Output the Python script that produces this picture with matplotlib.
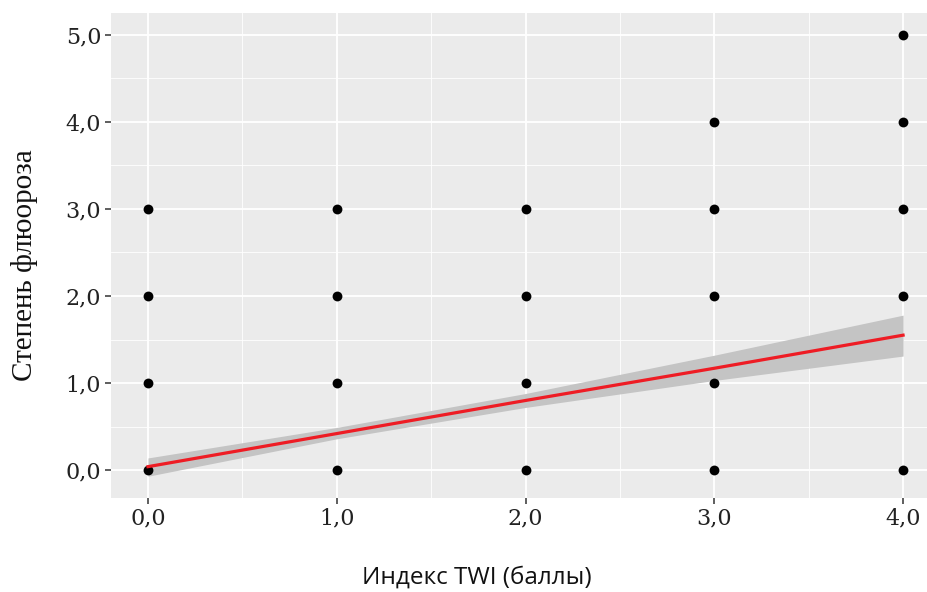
import numpy as np
import matplotlib
matplotlib.use("Agg")
import matplotlib.pyplot as plt
from matplotlib.ticker import MultipleLocator

# observed points (TWI index, fluorosis degree)
twi = [0, 0, 0, 0,
       1, 1, 1, 1,
       2, 2, 2, 2,
       3, 3, 3, 3, 3,
       4, 4, 4, 4, 4]
degree = [0, 1, 2, 3,
          0, 1, 2, 3,
          0, 1, 2, 3,
          0, 1, 2, 3, 4,
          0, 2, 3, 4, 5]

# fitted line and confidence band
fit_x = [0, 1, 2, 3, 4]
fit_y = [0.04, 0.42, 0.80, 1.17, 1.55]
band_lo = [-0.07, 0.36, 0.72, 1.03, 1.31]
band_hi = [0.14, 0.49, 0.88, 1.32, 1.78]

x_ticks = [0, 1, 2, 3, 4]
y_ticks = [0, 1, 2, 3, 4, 5]
x_labels = ["0,0", "1,0", "2,0", "3,0", "4,0"]
y_labels = ["0,0", "1,0", "2,0", "3,0", "4,0", "5,0"]

fig = plt.figure(figsize=(9.28, 5.92), dpi=100)
ax = fig.add_axes([111 / 928, 94 / 592, 817 / 928, 485 / 592])
ax.set_facecolor("#EBEBEB")
for s in ax.spines.values():
    s.set_visible(False)

ax.set_xlim(-0.196, 4.132)
ax.set_ylim(-0.32, 5.25)
ax.set_xticks(x_ticks)
ax.set_yticks(y_ticks)
ax.set_xticklabels(x_labels)
ax.set_yticklabels(y_labels)
ax.xaxis.set_minor_locator(MultipleLocator(0.5))
ax.yaxis.set_minor_locator(MultipleLocator(0.5))
ax.grid(which="major", color="white", linewidth=1.3)
ax.grid(which="minor", color="white", linewidth=0.6)
ax.set_axisbelow(True)
ax.tick_params(which="major", length=4, width=1.1, color="#333333",
               labelsize=16, labelcolor="#222222", pad=3)
ax.tick_params(which="minor", length=0)
for lab in ax.get_xticklabels() + ax.get_yticklabels():
    lab.set_family("DejaVu Serif")

ax.fill_between(fit_x, band_lo, band_hi, color="#C4C4C4", linewidth=0, zorder=2)
ax.scatter(twi, degree, s=50, color="black", linewidths=0, zorder=3)
ax.plot(fit_x, fit_y, color="#EE1C24", linewidth=2.3, zorder=4)

fig.text(477 / 928, 14 / 592, "Индекс TWI (баллы)", ha="center", va="center",
         fontsize=17.5, family="Open Sans", color="#111111")
fig.text(25 / 928, 1 - 265 / 592, "Степень флюороза", ha="center", va="center",
         rotation=90, fontsize=21, family="Liberation Serif", color="#111111")

fig.savefig("out.png", dpi=100)
